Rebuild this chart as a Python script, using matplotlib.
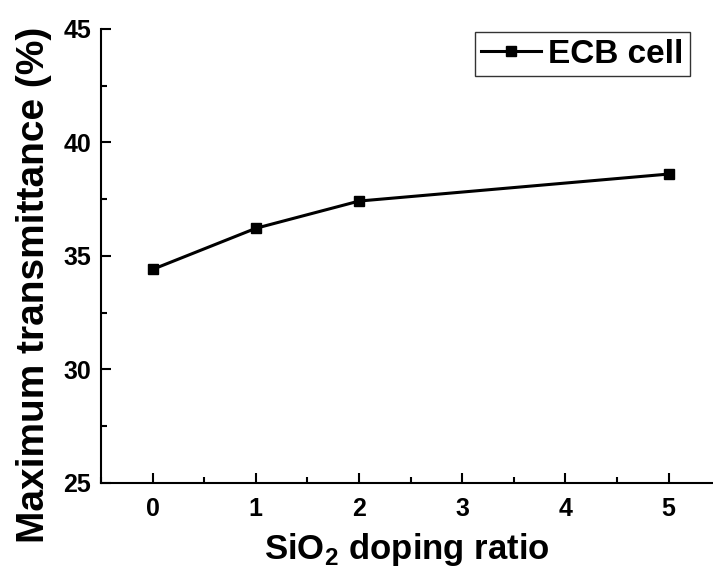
import matplotlib
matplotlib.use('Agg')
import matplotlib.pyplot as plt
import matplotlib.ticker as ticker

# SiO2 doping ratio vs maximum transmittance
doping_ratio = [0, 1, 2, 5]
max_transmittance = [34.41, 36.22, 37.42, 38.61]
series_label = 'ECB cell'

plt.rcParams['font.family'] = ['Liberation Sans', 'DejaVu Sans']
plt.rcParams['font.weight'] = 'bold'

fig = plt.figure(figsize=(7.13, 5.74), dpi=100)
ax = fig.add_axes([101 / 713, 1 - 483 / 574, 1 - 101 / 713, (483 - 29) / 574])

ax.plot(doping_ratio, max_transmittance, color='black', linewidth=2.2,
        marker='s', markersize=7.5, label=series_label)

ax.set_xlim(-0.5, 5.43)
ax.set_ylim(25, 45)
ax.xaxis.set_major_locator(ticker.MultipleLocator(1))
ax.xaxis.set_minor_locator(ticker.MultipleLocator(0.5))
ax.yaxis.set_major_locator(ticker.MultipleLocator(5))
ax.yaxis.set_minor_locator(ticker.MultipleLocator(2.5))

ax.spines['top'].set_visible(False)
ax.spines['right'].set_visible(False)
for s in ('left', 'bottom'):
    ax.spines[s].set_linewidth(1.5)

ax.tick_params(which='both', direction='in', width=1.5, labelsize=18)
ax.tick_params(which='major', length=7)
ax.tick_params(axis='x', which='major', pad=10)
ax.tick_params(axis='y', which='major', pad=7)
ax.tick_params(which='minor', length=4)
for lbl in ax.get_xticklabels() + ax.get_yticklabels():
    lbl.set_fontweight('bold')

ax.set_xlabel(r'SiO$_\mathregular{2}$ doping ratio', fontsize=25,
              fontweight='bold', labelpad=7)
ax.set_ylabel('Maximum transmittance (%)', fontsize=28, fontweight='bold')
ax.yaxis.set_label_coords((52 - 101) / 612, (483 - 285) / 454)

leg = ax.legend(loc='upper right', bbox_to_anchor=((690 - 101) / 612, (483 - 32) / 454),
                bbox_transform=ax.transAxes, fontsize=24, frameon=True,
                fancybox=False, handlelength=1.8, handletextpad=0.2,
                borderpad=0.2, borderaxespad=0.0)
leg.get_frame().set_edgecolor('black')
leg.get_frame().set_linewidth(1.0)
for t in leg.get_texts():
    t.set_fontweight('bold')

fig.savefig('out.png', dpi=100)
